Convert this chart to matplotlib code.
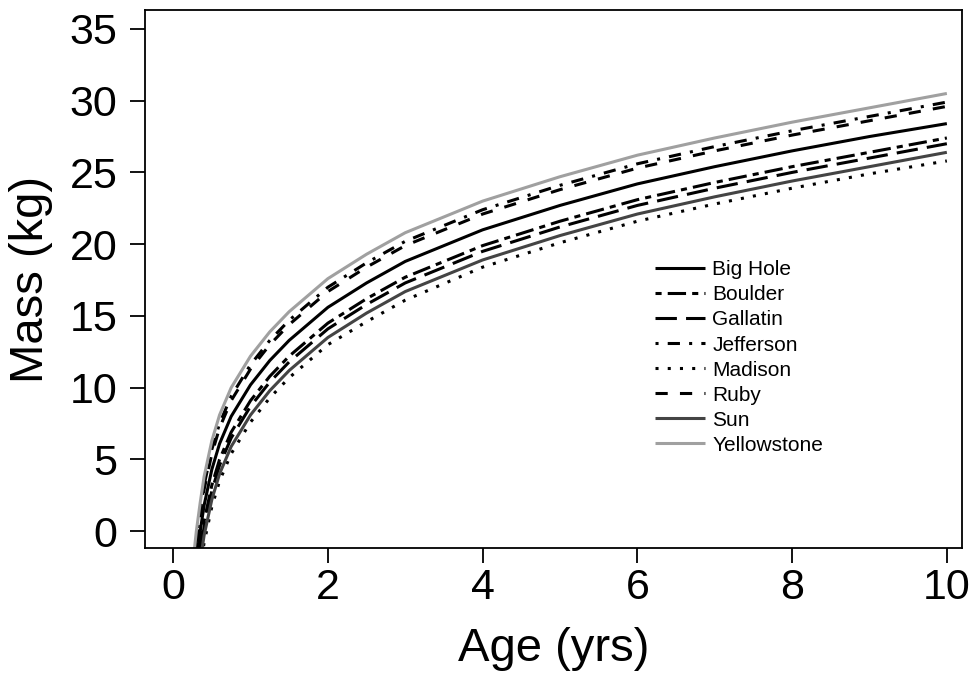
import matplotlib.pyplot as plt

# --- DATA ---
ages = [0.27, 0.30, 0.35, 0.40, 0.50, 0.60, 0.75, 1.0, 1.25, 1.5,
        2.0, 2.5, 3.0, 4.0, 5.0, 6.0, 7.0, 8.0, 9.0, 10.0]

big_hole = [-3.5, -2.0, 0.0, 1.8, 4.3, 6.1, 8.0, 10.2, 11.9, 13.3,
            15.6, 17.3, 18.8, 21.0, 22.7, 24.2, 25.4, 26.5, 27.5, 28.4]
boulder = [-4.6, -3.1, -1.1, 0.7, 3.2, 5.0, 6.9, 9.1, 10.8, 12.2,
           14.5, 16.2, 17.7, 19.9, 21.6, 23.1, 24.3, 25.4, 26.4, 27.4]
gallatin = [-5.0, -3.5, -1.5, 0.3, 2.8, 4.6, 6.5, 8.7, 10.4, 11.8,
            14.1, 15.8, 17.3, 19.5, 21.2, 22.7, 23.9, 25.0, 26.0, 27.0]
jefferson = [-2.1, -0.6, 1.4, 3.2, 5.7, 7.5, 9.4, 11.6, 13.3, 14.7,
             17.0, 18.7, 20.2, 22.4, 24.1, 25.6, 26.8, 27.9, 28.9, 29.9]
madison = [-6.1, -4.6, -2.6, -0.8, 1.7, 3.5, 5.4, 7.6, 9.3, 10.7,
           13.0, 14.6, 16.1, 18.4, 20.1, 21.6, 22.8, 23.9, 24.9, 25.8]
ruby = [-2.4, -0.9, 1.1, 2.9, 5.4, 7.2, 9.1, 11.3, 13.0, 14.4,
        16.7, 18.4, 19.9, 22.1, 23.8, 25.3, 26.5, 27.6, 28.6, 29.6]
sun = [-5.6, -4.1, -2.1, -0.3, 2.2, 4.0, 5.9, 8.1, 9.8, 11.2,
       13.5, 15.2, 16.7, 18.9, 20.6, 22.1, 23.3, 24.4, 25.4, 26.4]
yellowstone = [-1.5, 0.0, 2.0, 3.8, 6.3, 8.1, 10.0, 12.2, 13.9, 15.3,
               17.6, 19.3, 20.8, 23.0, 24.7, 26.2, 27.4, 28.5, 29.5, 30.5]

x_ticks = [0, 2, 4, 6, 8, 10]
y_ticks = [0, 5, 10, 15, 20, 25, 30, 35]

plt.rcParams['font.family'] = ['Liberation Sans', 'DejaVu Sans']

fig = plt.figure(figsize=(9.75, 6.81), dpi=100)
ax = fig.add_axes([0.149, 0.195, 0.838, 0.790])

lw = 2.2
# (name, values, color, dash pattern)
series = [
    ("Big Hole", big_hole, "black", None),
    ("Boulder", boulder, "black", (2, 2, 6, 2)),
    ("Gallatin", gallatin, "black", (7, 3)),
    ("Jefferson", jefferson, "black", (1, 3, 4, 3)),
    ("Madison", madison, "black", (1, 3)),
    ("Ruby", ruby, "black", (4, 4)),
    ("Sun", sun, "#444444", None),
    ("Yellowstone", yellowstone, "#a0a0a0", None),
]
for name, vals, col, dash in series:
    line, = ax.plot(ages, vals, color=col, linewidth=lw, label=name,
                    solid_capstyle="butt")
    if dash is not None:
        line.set_dashes(dash)

ax.set_xlim(-0.36, 10.2)
ax.set_ylim(-1.18, 36.3)
ax.set_xticks(x_ticks)
ax.set_yticks(y_ticks)
ax.tick_params(direction="out", length=11, width=1.3, labelsize=31)
ax.tick_params(axis="y", pad=9)
ax.tick_params(axis="x", pad=3)
for s in ax.spines.values():
    s.set_linewidth(1.3)
ax.set_xlabel("Age (yrs)", fontsize=34, labelpad=14)
ax.set_ylabel("Mass (kg)", fontsize=34, labelpad=12)

ax.legend(loc="upper left", bbox_to_anchor=(0.624, 0.535), frameon=False,
          fontsize=15, handlelength=2.4, handletextpad=0.34,
          labelspacing=0.29, borderpad=0, borderaxespad=0)

fig.savefig("out.png", dpi=100)
